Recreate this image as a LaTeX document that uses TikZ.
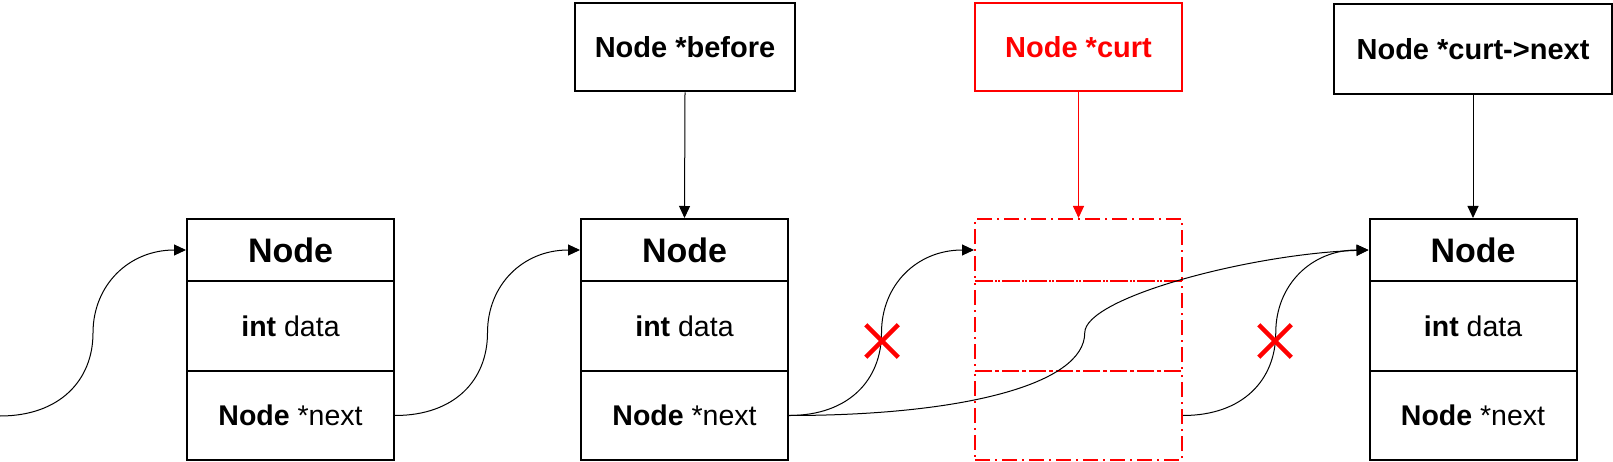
\documentclass[tikz,border=0pt]{standalone}
\usepackage{fontspec}
\setmainfont{Liberation Sans}
\usetikzlibrary{arrows.meta,calc,shapes.misc}
\begin{document}
\begin{tikzpicture}[x=1pt,y=-1pt,
  row/.style={draw, line width=2pt, minimum width=207pt, inner sep=0pt, font=\fontsize{28.5}{30}\selectfont},
  headrow/.style={row, minimum height=62pt, font=\fontsize{34}{36}\selectfont\bfseries},
  datarow/.style={row, minimum height=90pt},
  nextrow/.style={row, minimum height=89pt},
  ptrbox/.style={draw, line width=2.6pt, minimum height=88pt, inner sep=0pt, font=\fontsize{29}{31}\selectfont\bfseries},
  ghost/.style={draw=red, line width=2pt, minimum width=207pt, inner sep=0pt, dash pattern=on 15pt off 5pt on 2pt off 5pt},
  conn/.style={line width=1pt, -{Triangle[length=12pt,width=11pt]}},
  cut/.style={cross out, draw=red, line width=4.5pt, minimum size=28pt, inner sep=0pt}
]
\useasboundingbox (0,0) rectangle (1613,462);

% list nodes
\node[headrow] (h1) at (290.5,250) {Node};
\node[datarow] (d1) at (290.5,326) {\textbf{int} data};
\node[nextrow] (n1) at (290.5,415.5) {\textbf{Node} *next};

\node[headrow] (h2) at (684.5,250) {Node};
\node[datarow] (d2) at (684.5,326) {\textbf{int} data};
\node[nextrow] (n2) at (684.5,415.5) {\textbf{Node} *next};

\node[ghost, minimum height=62pt] (g1) at (1078.5,250) {};
\node[ghost, minimum height=90pt] (g2) at (1078.5,326) {};
\node[ghost, minimum height=89pt] (g3) at (1078.5,415.5) {};

\node[headrow] (h4) at (1473,250) {Node};
\node[datarow] (d4) at (1473,326) {\textbf{int} data};
\node[nextrow] (n4) at (1473,415.5) {\textbf{Node} *next};

% pointer boxes
\node[ptrbox, minimum width=220pt] (pbefore) at (685,47) {Node *before};
\node[ptrbox, minimum width=207pt, draw=red, text=red] (pcurt) at (1078.5,47) {Node *curt};
\node[ptrbox, minimum width=278pt, minimum height=90pt] (pnext) at (1473,49) {Node *curt->next};

\draw[conn] (pbefore.south) -- (h2.north);
\draw[conn, red] (pcurt.south) -- (g1.north);
\draw[conn] (pnext.south) -- (h4.north);

% links
\coordinate (start) at (0,416);
\draw[conn] (start) .. controls +(60,0) and +(0,47) .. ($(start)!0.5!(h1.west)$)
  .. controls +(0,-48) and +(-57,0) .. (h1.west);
\draw[conn] (n1.east) .. controls +(60,0) and +(0,47) .. ($(n1.east)!0.5!(h2.west)$)
  .. controls +(0,-48) and +(-57,0) .. (h2.west);
\draw[conn] (n2.east) .. controls +(60,0) and +(0,47) .. ($(n2.east)!0.5!(g1.west)$)
  .. controls +(0,-48) and +(-57,0) .. (g1.west);
\draw[conn] (g3.east) .. controls +(60,0) and +(0,47) .. ($(g3.east)!0.5!(h4.west)$)
  .. controls +(0,-48) and +(-57,0) .. (h4.west);
\draw[conn] (n2.east) .. controls +(172,0) and +(0,52) .. ($(n2.east)!0.5!(h4.west)+(6,0)$)
  .. controls +(0,-35) and +(-119,4) .. (h4.west);

% cut marks
\node[cut] (x1) at (882,341) {};
\node[cut] (x2) at (1275,341) {};
\end{tikzpicture}
\end{document}
